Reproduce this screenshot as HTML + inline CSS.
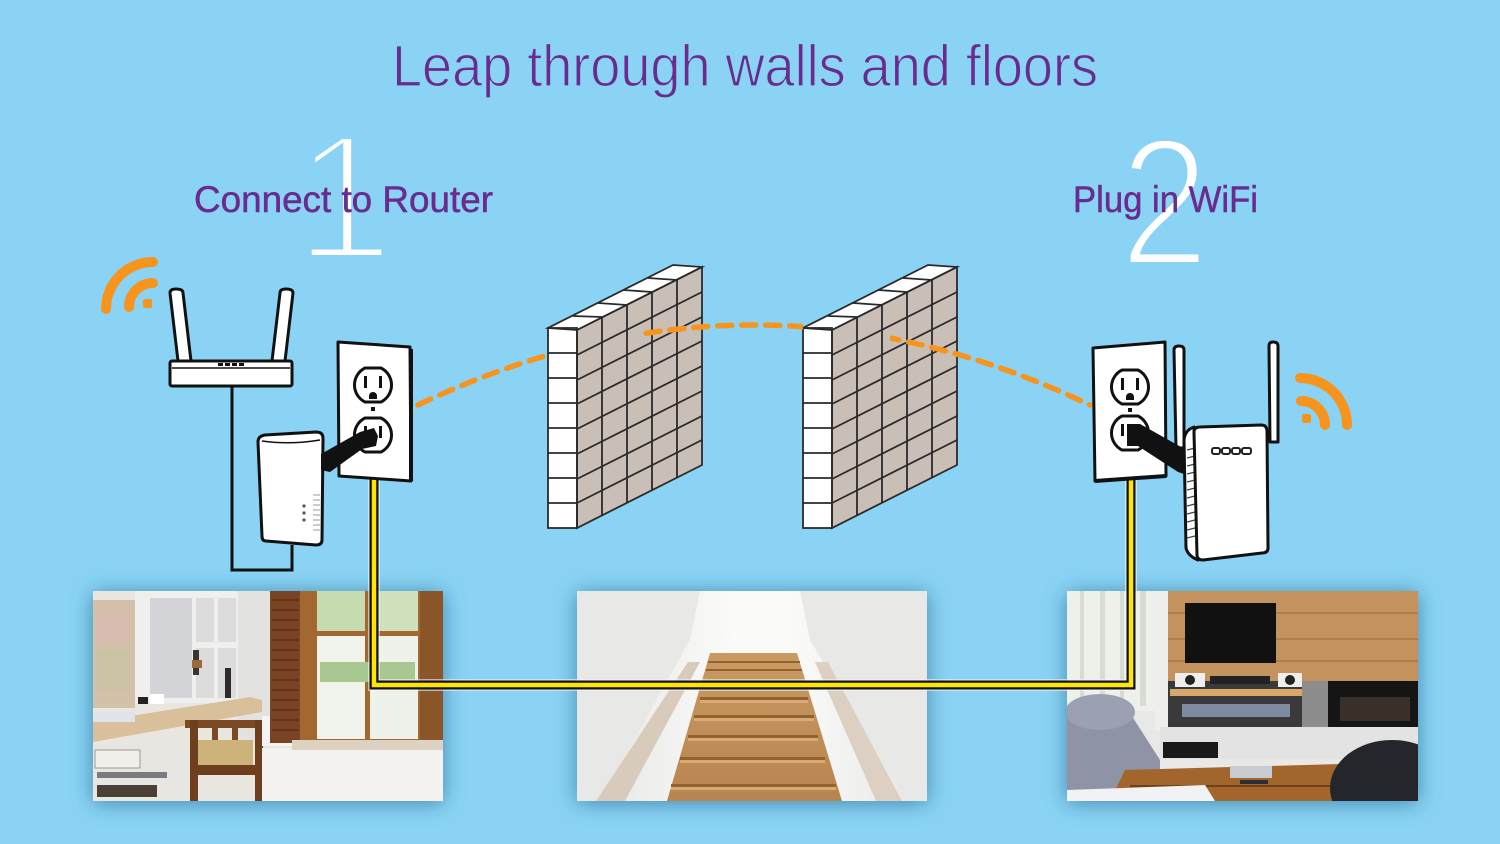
<!DOCTYPE html>
<html>
<head>
<meta charset="utf-8">
<style>
  html,body{margin:0;padding:0;background:#8AD3F4;}
  body{width:1500px;height:844px;overflow:hidden;}
  svg{display:block;}
  .pur{font-family:"Liberation Sans","DejaVu Sans",sans-serif;fill:#6a2b8e;}
  .num{font-family:"Liberation Sans","DejaVu Sans",sans-serif;fill:#ffffff;stroke:#8AD3F4;}
  .ol{stroke:#111;stroke-width:3;stroke-linejoin:round;fill:#fff;}
  .br{stroke:#2a2a2a;stroke-width:1.8;fill:none;}
</style>
</head>
<body>
<svg width="1500" height="844" viewBox="0 0 1500 844" xmlns="http://www.w3.org/2000/svg">
  <defs>
    <filter id="sh" x="-15%" y="-25%" width="130%" height="150%">
      <feDropShadow dx="0" dy="2" stdDeviation="11" flood-color="#2a6d95" flood-opacity="0.75"/>
    </filter>
    <clipPath id="arcclip">
      <rect x="0" y="0" width="548" height="844"/>
      <rect x="640" y="0" width="163" height="844"/>
      <rect x="890" y="0" width="610" height="844"/>
    </clipPath>
    <clipPath id="c1"><rect x="93" y="591" width="350" height="210"/></clipPath>
    <clipPath id="c2"><rect x="577" y="591" width="350" height="210"/></clipPath>
    <clipPath id="c3"><rect x="1067" y="591" width="351" height="210"/></clipPath>
    <linearGradient id="stairbg" x1="0" y1="0" x2="1" y2="0">
      <stop offset="0" stop-color="#e4e4e2"/>
      <stop offset="0.45" stop-color="#fbfbfa"/>
      <stop offset="0.6" stop-color="#fbfbfa"/>
      <stop offset="1" stop-color="#e6e6e4"/>
    </linearGradient>
    <linearGradient id="wood" x1="0" y1="0" x2="0" y2="1">
      <stop offset="0" stop-color="#c99a62"/>
      <stop offset="1" stop-color="#b88450"/>
    </linearGradient>
  </defs>

  <rect x="0" y="0" width="1500" height="844" fill="#8AD3F4"/>

  <!-- Big numbers (eroded by background-coloured stroke for a thin look) -->
  <text class="num" x="294" y="259" font-size="180" stroke-width="8">1</text>
  <text class="num" x="0" y="0" font-size="182" stroke-width="6" transform="translate(1120,265) scale(0.88,1)">2</text>

  <!-- Title & headings -->
  <text class="pur" x="392" y="86" font-size="58" textLength="706" lengthAdjust="spacingAndGlyphs" stroke="#8AD3F4" stroke-width="1.2">Leap through walls and floors</text>
  <text class="pur" x="194" y="212" font-size="37" textLength="299" lengthAdjust="spacingAndGlyphs" stroke="#6a2b8e" stroke-width="0.5">Connect to Router</text>
  <text class="pur" x="1073" y="212" font-size="37" textLength="185" lengthAdjust="spacingAndGlyphs" stroke="#6a2b8e" stroke-width="0.5">Plug in WiFi</text>

  <!-- ================= PHOTOS ================= -->
  <g filter="url(#sh)">
    <rect x="93" y="591" width="350" height="210" fill="#e9e6e0"/>
    <rect x="577" y="591" width="350" height="210" fill="#f2f2f0"/>
    <rect x="1067" y="591" width="351" height="210" fill="#e8e8e6"/>
  </g>

  <!-- Photo 1: office -->
  <g clip-path="url(#c1)">
    <rect x="93" y="591" width="350" height="210" fill="#e9e6e0"/>
    <rect x="93" y="600" width="42" height="108" fill="#d3c1aa"/>
    <rect x="96" y="612" width="34" height="30" fill="#d9b9b0" opacity="0.7"/>
    <rect x="96" y="650" width="34" height="40" fill="#c9c3a4" opacity="0.7"/>
    <rect x="135" y="591" width="105" height="112" fill="#efefee"/>
    <rect x="150" y="598" width="42" height="100" fill="#d2d4d8"/>
    <rect x="196" y="598" width="18" height="44" fill="#dcdcdc"/>
    <rect x="218" y="598" width="18" height="44" fill="#dcdcdc"/>
    <rect x="196" y="648" width="18" height="50" fill="#dcdcdc"/>
    <rect x="218" y="648" width="18" height="50" fill="#dcdcdc"/>
    <rect x="193" y="650" width="6" height="25" fill="#3a3530"/>
    <rect x="192" y="660" width="10" height="8" fill="#9a6a3a"/>
    <rect x="225" y="668" width="6" height="30" fill="#2e2b2a"/>
    <rect x="238" y="591" width="32" height="150" fill="#e2e2e0"/>
    <polygon points="93,722 250,697 262,700 262,712 93,742" fill="#d9c09a"/>
    <rect x="150" y="694" width="14" height="10" fill="#ffffff"/>
    <rect x="138" y="697" width="10" height="7" fill="#222"/>
    <rect x="95" y="712" width="40" height="10" fill="#dfe3ea"/>
    <rect x="93" y="742" width="92" height="59" fill="#e8e6e0"/>
    <rect x="95" y="750" width="45" height="18" fill="#f1efe9" stroke="#9a9a96" stroke-width="1"/>
    <rect x="97" y="772" width="70" height="6" fill="#7a7a80"/>
    <rect x="97" y="785" width="60" height="12" fill="#4a4036"/>
    <rect x="185" y="720" width="80" height="8" fill="#7b4a25"/>
    <rect x="190" y="720" width="8" height="81" fill="#6e3f1f"/>
    <rect x="255" y="720" width="8" height="81" fill="#6e3f1f"/>
    <rect x="212" y="725" width="6" height="40" fill="#7b4a25"/>
    <rect x="232" y="725" width="6" height="40" fill="#7b4a25"/>
    <rect x="198" y="740" width="55" height="25" fill="#cdb27a"/>
    <rect x="196" y="765" width="62" height="10" fill="#6e3f1f"/>
    <rect x="262" y="716" width="30" height="30" fill="#f4f4f4"/>
    <rect x="270" y="591" width="30" height="152" fill="#7a4424"/>
    <g stroke="#5a2f18" stroke-width="1.5">
      <line x1="272" y1="600" x2="298" y2="600"/><line x1="272" y1="610" x2="298" y2="610"/>
      <line x1="272" y1="620" x2="298" y2="620"/><line x1="272" y1="630" x2="298" y2="630"/>
      <line x1="272" y1="640" x2="298" y2="640"/><line x1="272" y1="650" x2="298" y2="650"/>
      <line x1="272" y1="660" x2="298" y2="660"/><line x1="272" y1="670" x2="298" y2="670"/>
      <line x1="272" y1="680" x2="298" y2="680"/><line x1="272" y1="690" x2="298" y2="690"/>
      <line x1="272" y1="700" x2="298" y2="700"/><line x1="272" y1="710" x2="298" y2="710"/>
      <line x1="272" y1="720" x2="298" y2="720"/><line x1="272" y1="730" x2="298" y2="730"/>
    </g>
    <rect x="300" y="591" width="143" height="158" fill="#a3682f"/>
    <rect x="317" y="591" width="48" height="40" fill="#c7dbb0"/>
    <rect x="370" y="591" width="48" height="40" fill="#cfe0bc"/>
    <rect x="317" y="636" width="48" height="103" fill="#f1f4ec"/>
    <rect x="370" y="636" width="48" height="103" fill="#eef2ea"/>
    <rect x="320" y="662" width="95" height="20" fill="#a9c891"/>
    <rect x="420" y="591" width="23" height="162" fill="#8a5528"/>
    <rect x="262" y="748" width="181" height="53" fill="#f4f2ee"/>
    <rect x="292" y="740" width="151" height="10" fill="#ddd2c2"/>
  </g>

  <!-- Photo 2: stairs -->
  <g clip-path="url(#c2)">
    <rect x="577" y="591" width="350" height="210" fill="url(#stairbg)"/>
    <polygon points="577,591 700,591 690,640 600,801 577,801" fill="#e8e8e6"/>
    <polygon points="927,591 800,591 810,640 905,801 927,801" fill="#e8e8e6"/>
    <polygon points="596,801 625,801 700,662 688,662" fill="#d8cbbb"/>
    <polygon points="876,801 902,801 828,662 815,662" fill="#dcd0c2"/>
    <polygon points="710,653 797,653 842,801 667,801" fill="url(#wood)"/>
    <g fill="#94622f">
      <rect x="708" y="661" width="92" height="2"/>
      <rect x="706" y="669" width="96" height="2"/>
      <rect x="700" y="697" width="108" height="3"/>
      <rect x="694" y="715" width="120" height="3"/>
      <rect x="688" y="735" width="130" height="3"/>
      <rect x="680" y="757" width="145" height="3"/>
      <rect x="671" y="784" width="165" height="3"/>
    </g>
    <g fill="#d8ab74">
      <rect x="700" y="700" width="108" height="3"/>
      <rect x="694" y="718" width="120" height="3"/>
      <rect x="688" y="738" width="130" height="3"/>
      <rect x="680" y="760" width="145" height="3"/>
      <rect x="671" y="787" width="165" height="3"/>
    </g>
  </g>

  <!-- Photo 3: living room -->
  <g clip-path="url(#c3)">
    <rect x="1067" y="591" width="351" height="210" fill="#e8e8e6"/>
    <rect x="1067" y="591" width="100" height="120" fill="#eef0ec"/>
    <g fill="#d6dcd3">
      <rect x="1080" y="591" width="4" height="115"/><rect x="1100" y="591" width="5" height="115"/>
      <rect x="1120" y="591" width="4" height="115"/><rect x="1140" y="591" width="6" height="115"/>
    </g>
    <rect x="1155" y="591" width="14" height="140" fill="#eeeeec"/>
    <rect x="1168" y="591" width="250" height="90" fill="#c4925c"/>
    <g fill="#b07e4a">
      <rect x="1168" y="612" width="250" height="2"/><rect x="1168" y="638" width="250" height="2"/>
      <rect x="1168" y="660" width="250" height="2"/>
    </g>
    <rect x="1185" y="603" width="91" height="60" fill="#111"/>
    <rect x="1168" y="681" width="135" height="48" fill="#3a3a3a"/>
    <rect x="1175" y="673" width="30" height="14" fill="#eeeeee"/>
    <circle cx="1190" cy="680" r="5" fill="#222"/>
    <rect x="1278" y="673" width="24" height="14" fill="#eeeeee"/>
    <circle cx="1290" cy="680" r="5" fill="#222"/>
    <rect x="1210" y="676" width="60" height="8" fill="#222"/>
    <rect x="1170" y="689" width="132" height="7" fill="#d9a86a"/>
    <rect x="1182" y="704" width="108" height="13" fill="#7d8ca2"/>
    <rect x="1302" y="681" width="26" height="50" fill="#8d8d8d"/>
    <rect x="1328" y="681" width="90" height="50" fill="#151515"/>
    <rect x="1340" y="697" width="70" height="24" fill="#3a302a"/>
    <rect x="1160" y="727" width="258" height="32" fill="#e3e3e3"/>
    <rect x="1163" y="742" width="55" height="16" fill="#1a1a1a"/>
    <path d="M1067,708 Q1100,700 1128,710 L1160,760 L1160,801 L1067,801 Z" fill="#8e94a6"/>
    <ellipse cx="1100" cy="712" rx="35" ry="18" fill="#9ba1b2"/>
    <polygon points="1125,770 1340,764 1362,801 1110,801" fill="#a2652c"/>
    <rect x="1130" y="785" width="200" height="2" fill="#6e4218"/>
    <rect x="1230" y="766" width="42" height="12" fill="#c8ccd2"/>
    <rect x="1240" y="780" width="28" height="4" fill="#2a2f3a"/>
    <ellipse cx="1392" cy="788" rx="62" ry="48" fill="#25262c"/>
    <polygon points="1067,790 1205,785 1215,801 1067,801" fill="#f2f2f4"/>
  </g>

  <!-- ================= WALLS ================= -->
  <g id="wall1">
    <polygon points="577,330 702,267 702,465 577,528" fill="#c9bfb7"/>
    <polygon points="548,328 577,330 702,267 673,265" fill="#ffffff"/>
    <rect x="548" y="328" width="29" height="200" fill="#ffffff"/>
    <g class="br">
      <polygon points="577,330 702,267 702,465 577,528"/>
      <polygon points="548,328 577,330 702,267 673,265"/>
      <rect x="548" y="328" width="29" height="200"/>
      <line x1="548" y1="353" x2="577" y2="353"/><line x1="548" y1="378" x2="577" y2="378"/>
      <line x1="548" y1="403" x2="577" y2="403"/><line x1="548" y1="428" x2="577" y2="428"/>
      <line x1="548" y1="453" x2="577" y2="453"/><line x1="548" y1="478" x2="577" y2="478"/>
      <line x1="548" y1="503" x2="577" y2="503"/>
      <line x1="577" y1="355" x2="702" y2="292"/><line x1="577" y1="380" x2="702" y2="317"/>
      <line x1="577" y1="404" x2="702" y2="341"/><line x1="577" y1="429" x2="702" y2="366"/>
      <line x1="577" y1="454" x2="702" y2="391"/><line x1="577" y1="479" x2="702" y2="416"/>
      <line x1="577" y1="503" x2="702" y2="440"/>
      <line x1="602" y1="317" x2="602" y2="515"/><line x1="627" y1="305" x2="627" y2="503"/>
      <line x1="652" y1="292" x2="652" y2="490"/><line x1="677" y1="280" x2="677" y2="478"/>
      <line x1="573" y1="316" x2="602" y2="317"/><line x1="598" y1="303" x2="627" y2="305"/>
      <line x1="623" y1="290" x2="652" y2="292"/><line x1="648" y1="278" x2="677" y2="280"/>
    </g>
  </g>
  <use href="#wall1" transform="translate(255,0)"/>

  <!-- ================= DASHED SIGNAL ARC ================= -->
  <path d="M418,405 Q754,245 1090,405" fill="none" stroke="#f7941d" stroke-width="5.5" stroke-dasharray="14 10" stroke-linecap="round" clip-path="url(#arcclip)"/>

  <!-- ================= WIFI ICONS ================= -->
  <g fill="none" stroke="#f7941d" stroke-width="10" stroke-linecap="round">
    <path d="M106,309 A47 47 0 0 1 153,262"/>
    <path d="M129,307 A24 24 0 0 1 153,283"/>
    <path d="M1300,378 A47 47 0 0 1 1347,425"/>
    <path d="M1301,401 A24 24 0 0 1 1325,425"/>
  </g>
  <rect x="143" y="299" width="9" height="9" rx="2" fill="#f7941d"/>
  <rect x="1302" y="414" width="9" height="9" rx="2" fill="#f7941d"/>

  <!-- ================= ROUTER ================= -->
  <polyline points="232,386 232,570 292,570 292,545" fill="none" stroke="#111" stroke-width="3"/>
  <path class="ol" d="M170,293 Q170,289 176,289 Q183,289 183,293 L191,361 L178,361 Z"/>
  <path class="ol" d="M280,293 Q280,289 286,289 Q293,289 293,293 L285,361 L272,361 Z"/>
  <rect class="ol" x="170" y="361" width="122" height="25" rx="2"/>
  <line x1="172" y1="368" x2="290" y2="368" stroke="#111" stroke-width="1.5"/>
  <g fill="#111">
    <rect x="218" y="363" width="5" height="3"/><rect x="225" y="363" width="5" height="3"/>
    <rect x="232" y="363" width="5" height="3"/><rect x="239" y="363" width="5" height="3"/>
  </g>

  <!-- left powerline adapter -->
  <path class="ol" d="M258,442 Q258,436 265,435 L316,432 Q323,432 323,438 L322,540 Q322,545 316,545 L266,541 Q262,541 262,536 Z"/>
  <path d="M262,441 Q290,445 320,440" fill="none" stroke="#111" stroke-width="1.5"/>
  <g fill="#555"><circle cx="304" cy="506" r="1.6"/><circle cx="304" cy="513" r="1.6"/><circle cx="304" cy="520" r="1.6"/></g>
  <g stroke="#999" stroke-width="1"><line x1="313" y1="495" x2="320" y2="495"/><line x1="313" y1="500" x2="320" y2="500"/><line x1="313" y1="505" x2="320" y2="505"/><line x1="313" y1="510" x2="320" y2="510"/><line x1="313" y1="515" x2="320" y2="515"/><line x1="313" y1="520" x2="320" y2="520"/><line x1="313" y1="525" x2="320" y2="525"/><line x1="313" y1="530" x2="320" y2="530"/></g>

  <!-- ================= YELLOW CABLE ================= -->
  <path d="M374,478 V685 H1131 V478" fill="none" stroke="#f4f4f4" stroke-width="12" stroke-linejoin="miter" opacity="0.6"/>
  <path d="M374,478 V685 H1131 V478" fill="none" stroke="#111" stroke-width="9" stroke-linejoin="miter"/>
  <path d="M374,478 V685 H1131 V478" fill="none" stroke="#ffe500" stroke-width="4.5" stroke-linejoin="miter"/>

  <!-- ================= LEFT OUTLET ================= -->
  <polygon class="ol" points="338,342 410,347 411,481 339,476" stroke-width="3.5"/>
  <line x1="411" y1="349" x2="411" y2="481" stroke="#111" stroke-width="4"/>
  <g class="ol" stroke-width="2.5">
    <path d="M365,368 H381 A19 19 0 0 1 381,402 H365 A19 19 0 0 1 365,368 Z"/>
    <path d="M365,418 H381 A19 19 0 0 1 381,452 H365 A19 19 0 0 1 365,418 Z"/>
  </g>
  <g fill="#111">
    <rect x="364" y="376" width="3" height="12"/><rect x="379" y="376" width="3" height="12"/>
    <path d="M369,396 a4 4 0 0 1 8 0 v3 h-8 z"/>
    <rect x="364" y="426" width="3" height="12"/><rect x="379" y="426" width="3" height="12"/>
    <rect x="371" y="407" width="4" height="4"/>
  </g>
  <!-- left plug cord -->
  <polygon points="321,454 360,432 374,428 378,436 376,446 362,449 330,472 321,470" fill="#111"/>

  <!-- ================= RIGHT OUTLET ================= -->
  <polygon class="ol" points="1093,348 1165,342 1166,476 1095,481" stroke-width="3.5"/>
  <line x1="1095" y1="481" x2="1166" y2="476" stroke="#111" stroke-width="4"/>
  <g class="ol" stroke-width="2.5">
    <path d="M1122,370 H1138 A19 19 0 0 1 1138,404 H1122 A19 19 0 0 1 1122,370 Z"/>
    <path d="M1122,416 H1138 A19 19 0 0 1 1138,450 H1122 A19 19 0 0 1 1122,416 Z"/>
  </g>
  <g fill="#111">
    <rect x="1121" y="378" width="3" height="12"/><rect x="1136" y="378" width="3" height="12"/>
    <path d="M1126,397 a4 4 0 0 1 8 0 v3 h-8 z"/>
    <rect x="1121" y="424" width="3" height="12"/><rect x="1136" y="424" width="3" height="12"/>
    <rect x="1128" y="408" width="4" height="4"/>
  </g>

  <!-- ================= EXTENDER ================= -->
  <path class="ol" d="M1174,350 Q1174,346 1179,346 Q1184,346 1184,350 L1184,448 L1176,448 Z"/>
  <path class="ol" d="M1269,346 Q1269,342 1273,342 Q1278,342 1278,346 L1278,442 L1270,442 Z"/>
  <polygon points="1127,424 1140,424 1190,452 1190,476 1178,472 1138,446 1127,446" fill="#111"/>
  <path class="ol" d="M1184,440 Q1185,430 1194,427 L1198,560 Q1188,556 1186,548 Z"/>
  <g stroke="#444" stroke-width="1.2">
    <line x1="1187" y1="450" x2="1195" y2="448"/><line x1="1187" y1="458" x2="1195" y2="456"/>
    <line x1="1187" y1="466" x2="1195" y2="464"/><line x1="1187" y1="474" x2="1195" y2="472"/>
    <line x1="1187" y1="482" x2="1195" y2="480"/><line x1="1187" y1="490" x2="1195" y2="488"/>
    <line x1="1187" y1="498" x2="1195" y2="496"/><line x1="1187" y1="506" x2="1195" y2="504"/>
    <line x1="1187" y1="514" x2="1195" y2="512"/><line x1="1187" y1="522" x2="1195" y2="520"/>
    <line x1="1187" y1="530" x2="1195" y2="528"/><line x1="1187" y1="538" x2="1195" y2="536"/>
  </g>
  <path class="ol" d="M1194,432 Q1194,427 1200,427 L1261,425 Q1267,425 1267,431 L1268,548 Q1268,553 1262,553 L1203,560 Q1197,560 1197,555 Z"/>
  <g fill="none" stroke="#222" stroke-width="2">
    <rect x="1212" y="448" width="8" height="6" rx="2"/>
    <rect x="1222" y="448" width="8" height="6" rx="2"/>
    <rect x="1232" y="448" width="8" height="6" rx="2"/>
    <rect x="1242" y="448" width="9" height="6" rx="2"/>
  </g>
</svg>
</body>
</html>
